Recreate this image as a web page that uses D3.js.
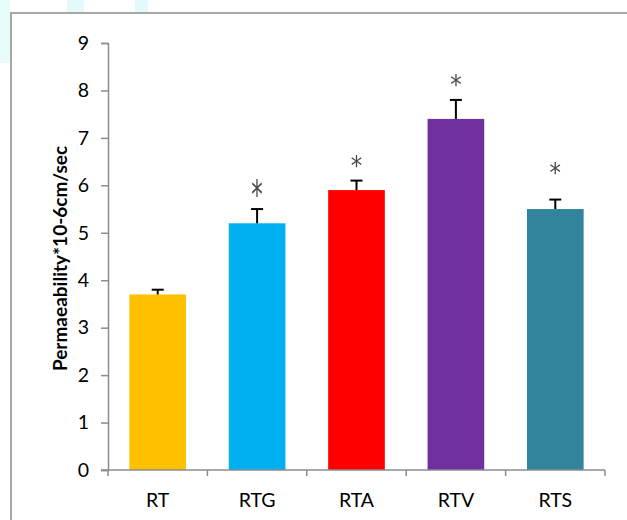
<!DOCTYPE html>
<html>
<head>
<meta charset="utf-8">
<script src="https://cdn.jsdelivr.net/npm/d3@7"></script>
<style>
  html, body { margin: 0; padding: 0; background: #fff; }
  svg { display: block; }
</style>
</head>
<body>
<svg id="chart" width="627" height="520"></svg>
<script>
// Permeability by treatment group
const categories = ["RT", "RTG", "RTA", "RTV", "RTS"];
const values = [3.7, 5.2, 5.9, 7.4, 5.5];
const errors = [0.1, 0.3, 0.2, 0.4, 0.2];
// level (in axis units) at which each significance star sits; null = none
const starLevels = [null, 6.0, 6.55, 8.25, 6.4];
const colors = ["#FFC000", "#00B0F0", "#FF0000", "#7030A0", "#31849B"];
const yTicks = [0, 1, 2, 3, 4, 5, 6, 7, 8, 9];
const yTitle = "Permaeability*10-6cm/sec";

const svg = d3.select("#chart");
const font = "Lato, 'Open Sans', sans-serif";

// faint cyan patches along the top and left edge of the page
svg.append("rect").attr("x", 67).attr("y", 0).attr("width", 17).attr("height", 13).attr("fill", "#e2fafa");
svg.append("rect").attr("x", 135).attr("y", 0).attr("width", 13).attr("height", 13).attr("fill", "#e2fafa");
svg.append("rect").attr("x", 0).attr("y", 0).attr("width", 10).attr("height", 63).attr("fill", "#e8fbfb");

// outer frame (extends beyond the right and bottom edges)
svg.append("rect")
  .attr("x", 11).attr("y", 13)
  .attr("width", 640).attr("height", 540)
  .attr("fill", "none").attr("stroke", "#8c8c8c").attr("stroke-width", 1.5);

const margin = { left: 108, right: 605, top: 43, bottom: 470 };

const x = d3.scaleBand()
  .domain(categories)
  .range([margin.left, margin.right])
  .paddingInner(0.43)
  .paddingOuter(0.215);

const y = d3.scaleLinear().domain([0, 9]).range([margin.bottom, margin.top]);

// bars
svg.append("g").selectAll("rect")
  .data(categories)
  .join("rect")
  .attr("x", d => x(d))
  .attr("y", (d, i) => y(values[i]))
  .attr("width", x.bandwidth())
  .attr("height", (d, i) => y(0) - y(values[i]))
  .attr("fill", (d, i) => colors[i]);

// upper error bars
const eb = svg.append("g").attr("stroke", "#000").attr("stroke-width", 2).attr("fill", "none");
categories.forEach((c, i) => {
  const cx = x(c) + x.bandwidth() / 2;
  const top = y(values[i] + errors[i]);
  eb.append("line").attr("x1", cx).attr("x2", cx).attr("y1", y(values[i])).attr("y2", top);
  eb.append("line").attr("x1", cx - 6).attr("x2", cx + 6).attr("y1", top).attr("y2", top);
});

// significance stars (glyph centre placed on the star level)
const stars = svg.append("g");
categories.forEach((c, i) => {
  if (starLevels[i] == null) return;
  const cx = x(c) + x.bandwidth() / 2;
  const big = c === "RTG";
  const fs = 27;
  const sy = big ? 1.45 : 1;
  stars.append("text")
    .attr("transform", `translate(${cx},${y(starLevels[i])}) scale(0.85,${sy})`)
    .attr("y", fs * 0.58)
    .attr("text-anchor", "middle")
    .attr("font-family", "'DejaVu Sans', sans-serif")
    .attr("font-size", fs)
    .attr("fill", "#4a4a4a")
    .style("filter", "blur(0.35px)")
    .text("*");
});

// y axis
const yAxis = d3.axisLeft(y).tickValues(yTicks).tickSize(7).tickPadding(12).tickFormat(d3.format("d"));
const gy = svg.append("g").attr("transform", `translate(${margin.left},0)`).call(yAxis);
gy.select(".domain").attr("stroke", "#8c8c8c").attr("stroke-width", 1.5);
gy.selectAll(".tick line").attr("stroke", "#8c8c8c").attr("stroke-width", 1.5);
gy.selectAll(".tick text").attr("font-family", font).attr("font-size", 19.5).attr("fill", "#000");

// x axis with boundary ticks between categories
const gx = svg.append("g").attr("transform", `translate(0,${margin.bottom})`);
gx.append("line").attr("x1", margin.left - 7).attr("x2", margin.right).attr("y1", 0).attr("y2", 0)
  .attr("stroke", "#8c8c8c").attr("stroke-width", 1.5);
const step = x.step();
const bounds = d3.range(categories.length + 1).map(k => margin.left + k * step);
gx.selectAll("line.b").data(bounds).join("line").attr("class", "b")
  .attr("x1", d => d).attr("x2", d => d).attr("y1", 0).attr("y2", 6)
  .attr("stroke", "#8c8c8c").attr("stroke-width", 1.5);
gx.selectAll("text").data(categories).join("text")
  .attr("x", c => x(c) + x.bandwidth() / 2)
  .attr("y", 37)
  .attr("text-anchor", "middle")
  .attr("font-family", font)
  .attr("font-size", 19.5)
  .attr("fill", "#000")
  .text(c => c);

// y axis title
svg.append("text")
  .attr("transform", `translate(67,${(margin.top + margin.bottom) / 2 + 2}) rotate(-90)`)
  .attr("text-anchor", "middle")
  .attr("font-family", font)
  .attr("font-size", 19)
  .attr("font-weight", "bold")
  .attr("fill", "#000")
  .text(yTitle);
</script>
</body>
</html>
